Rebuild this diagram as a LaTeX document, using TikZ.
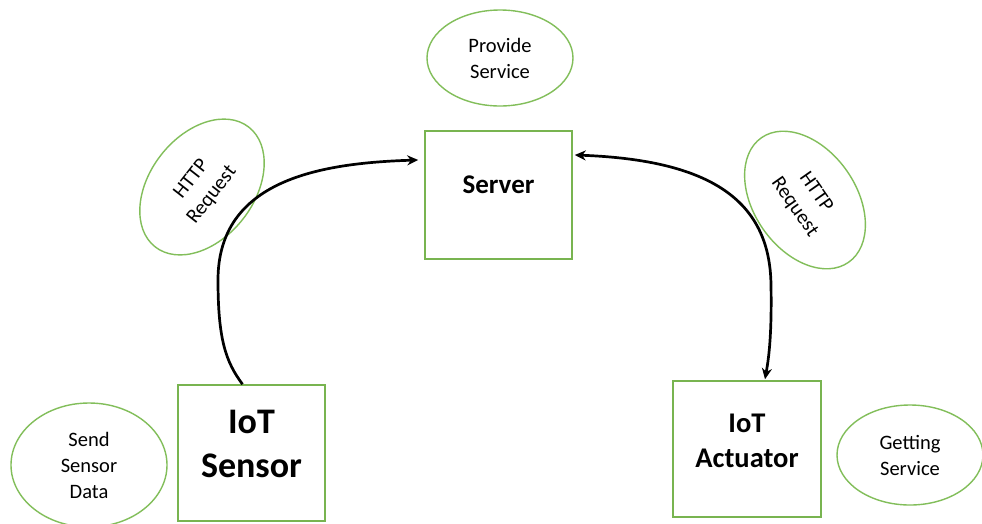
\documentclass[tikz,border=0pt]{standalone}
\usepackage{fontspec}
\setmainfont{Carlito}
\usetikzlibrary{shapes.geometric,arrows.meta}
\begin{document}
\begin{tikzpicture}[x=1pt,y=-1pt,
  boxnode/.style={draw={rgb,255:red,120;green,180;blue,80}, line width=1.5pt, fill=white, inner sep=0pt},
  boxtext/.style={align=center, inner sep=0pt},
  bubble/.style={ellipse, draw={rgb,255:red,130;green,190;blue,90}, line width=1.4pt, inner sep=0pt, align=center, font=\fontsize{20.5}{26}\selectfont},
  link/.style={line width=2.7pt, -{Stealth[length=11pt,width=10pt]}},
  biglink/.style={line width=2.7pt, {Stealth[length=11pt,width=10pt]}-{Stealth[length=11pt,width=10pt]}}]
\path[use as bounding box, fill=white] (0,0) rectangle (982,523);

% main boxes
\node[boxnode, minimum width=147pt, minimum height=128pt] (server) at (498.5,195) {};
\node[boxnode, minimum width=147pt, minimum height=136pt] (sensor) at (251.5,453) {};
\node[boxnode, minimum width=148pt, minimum height=136pt] (actuator) at (747,449) {};

% box captions
\node[boxtext, font=\bfseries\fontsize{27}{32}\selectfont] (servertext) at ([yshift=10pt]server.center) {Server};
\node[boxtext, font=\bfseries\fontsize{36}{44}\selectfont] (sensortext) at ([yshift=9pt]sensor.center) {IoT\\Sensor};
\node[boxtext, font=\bfseries\fontsize{28.5}{35}\selectfont] (actuatortext) at ([yshift=8pt]actuator.center) {IoT\\Actuator};

% labels in ellipses
\node[bubble, minimum width=146pt, minimum height=96pt] (provide) at (500,58) {Provide\\Service};
\node[bubble, minimum width=156pt, minimum height=124pt] (send) at (89,465) {Send\\Sensor\\Data};
\node[bubble, minimum width=146pt, minimum height=100pt] (getting) at (910,455) {Getting\\Service};
\node[bubble, rotate=52, minimum width=152pt, minimum height=104pt] (httpl) at (202,187) {HTTP\\Request};
\node[bubble, rotate=-55, minimum width=152pt, minimum height=102pt] (httpr) at (805,200) {HTTP\\Request};

% connectors
\coordinate (sstart) at ([xshift=-9pt]sensor.north);
\coordinate (send1) at ([xshift=-6pt,yshift=35pt]server.west);
\draw[link] (sstart) .. controls (226,362) and (218,340) .. (218,280)
  .. controls (218,180) and (320,163) .. (send1);

\coordinate (rstart) at ([xshift=2pt,yshift=40pt]server.east);
\coordinate (rend) at ([xshift=18pt,yshift=1pt]actuator.north);
\draw[biglink] (rstart) .. controls (710,160) and (770,200) .. (771,285)
  .. controls (772,340) and (768,362) .. (rend);
\end{tikzpicture}
\end{document}
